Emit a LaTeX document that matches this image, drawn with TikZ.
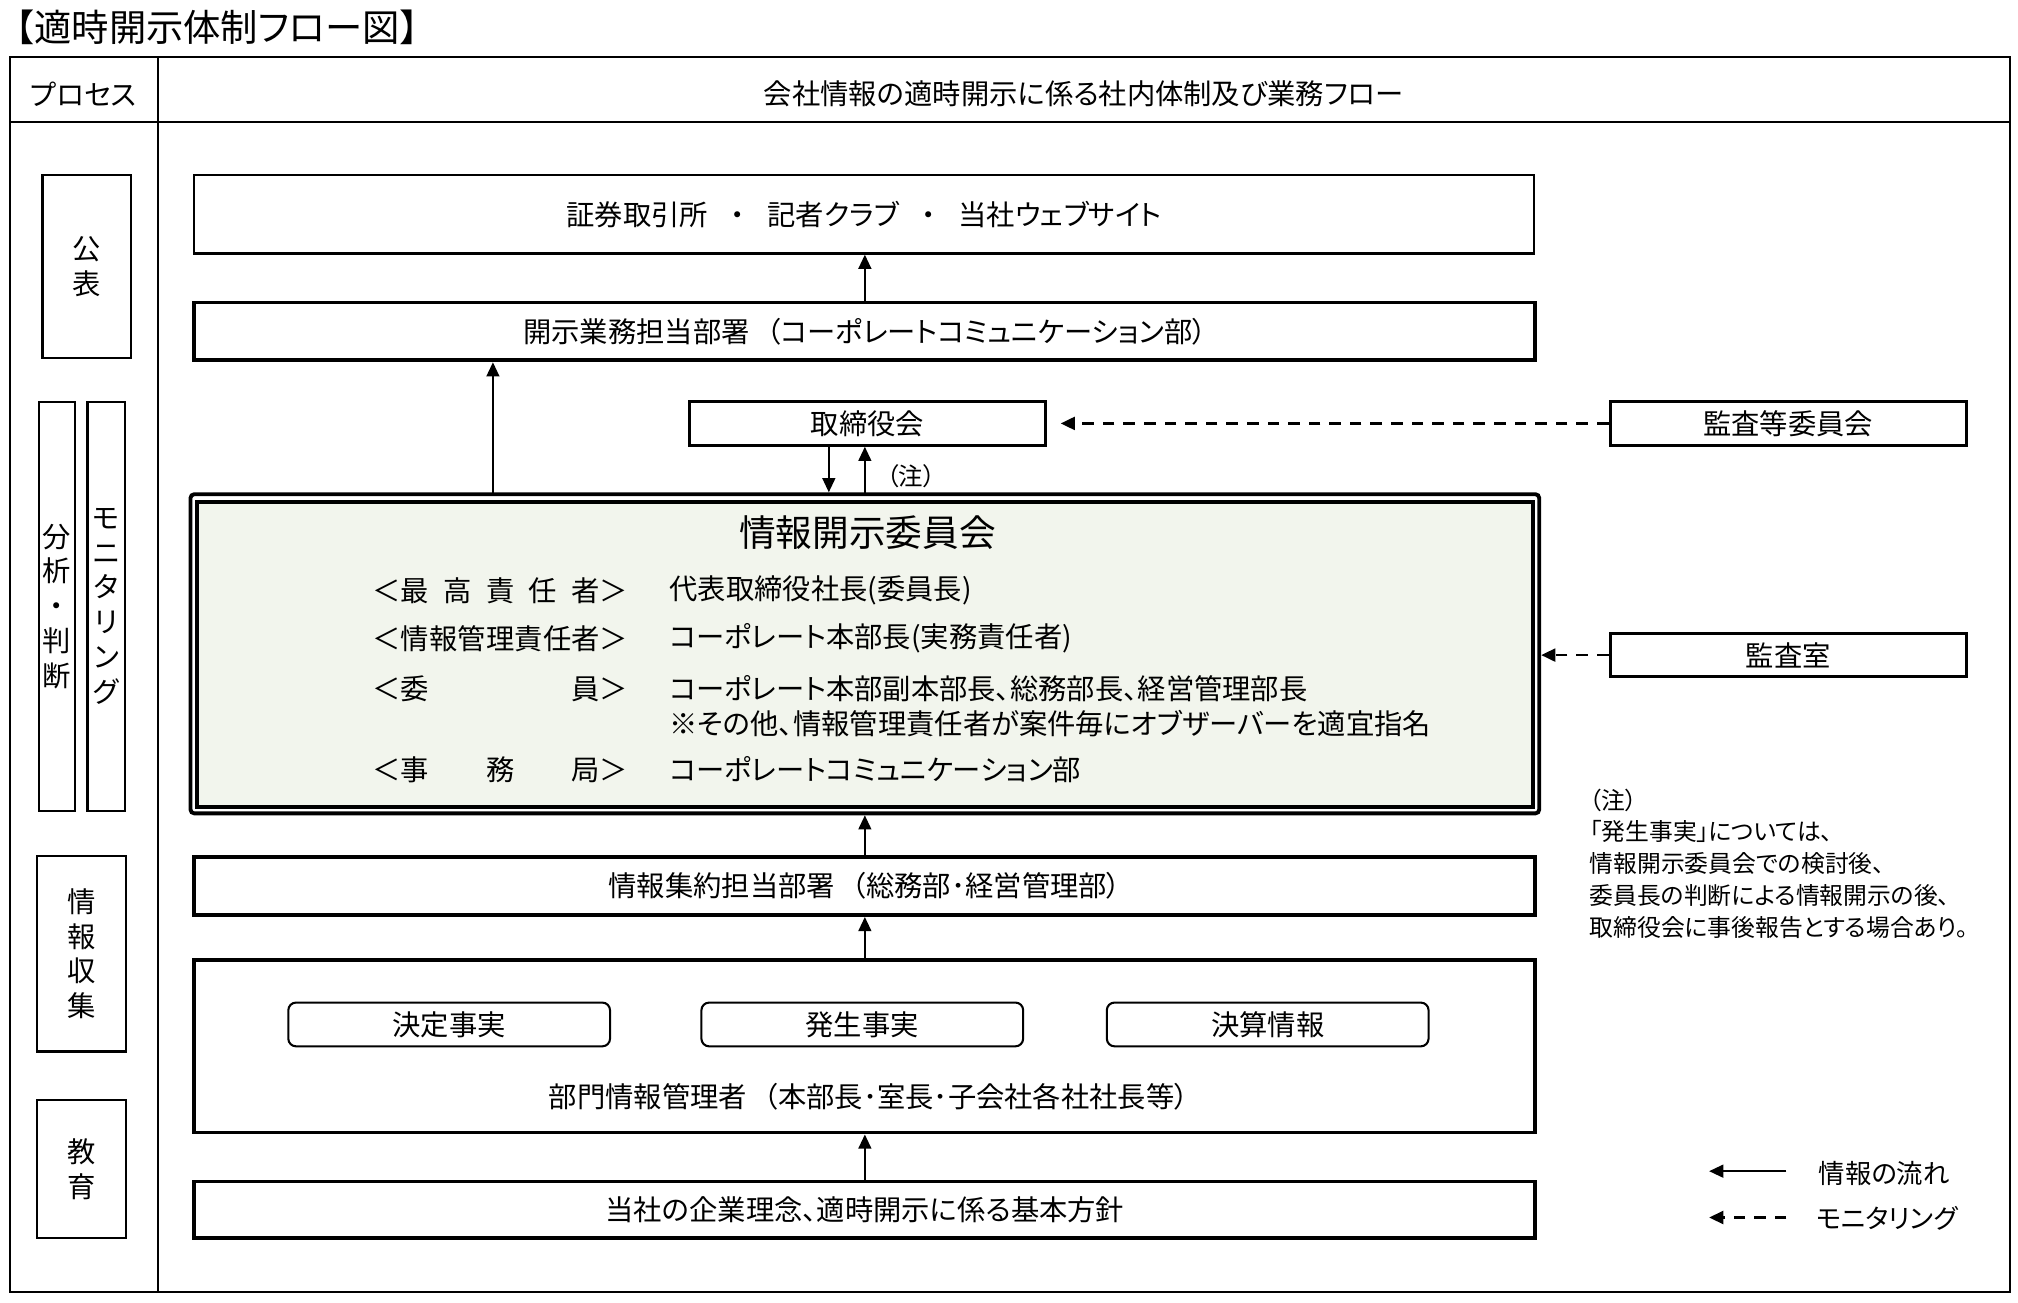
\documentclass[tikz,border=0pt]{standalone}
\usepackage{fontspec}
\setmainfont{Noto Sans CJK JP}[RawFeature=+palt]
\usetikzlibrary{arrows.meta}
\newcommand\bodyfont{\fontsize{22}{27}\selectfont}
\newcommand\notefont{\fontsize{18.5}{22}\selectfont}
\definecolor{cmtfill}{RGB}{242,245,237}
\begin{document}
\begin{tikzpicture}[x=1pt,y=-1pt,
  every node/.style={font=\bodyfont, inner sep=0pt},
  thinbox/.style={draw, line width=1.8pt},
  midbox/.style={draw, line width=2.3pt},
  thickbox/.style={draw, line width=3pt},
  procbox/.style={draw, line width=1.6pt, align=center},
  rbox/.style={draw, line width=1.6pt, rounded corners=6pt},
  arr/.style={line width=1.4pt, -{Triangle[length=11pt,width=10pt]}},
  darr/.style={line width=2pt, dash pattern=on 9pt off 7pt, -{Triangle[length=11pt,width=10pt]}},
  lbl/.style={anchor=west}
]
\useasboundingbox (0,0) rectangle (1568,1012);

% title
\node[anchor=west, font=\fontsize{29}{33}\selectfont] (title) at (12,21) {【適時開示体制フロー図】};

% table frame
\node[draw, line width=1.5pt, minimum width=1554, minimum height=960] (frame) at (785,524) {};
\coordinate (hl) at (8,95);
\coordinate (hr) at (1562,95);
\draw[line width=1.5pt] (hl) -- (hr);
\coordinate (ct) at (123,44);
\coordinate (cb) at (123,1004);
\draw[line width=1.5pt] (ct) -- (cb);
\node (proc) at (65,73) {プロセス};
\node (head) at (842,73) {会社情報の適時開示に係る社内体制及び業務フロー};

% process column
\node[procbox, minimum width=69, minimum height=142] (pub) at (67.5,207) {公\\表};
\node[procbox, minimum width=28, minimum height=318] (ana) at (44,471) {分\\析\\・\\判\\断};
\node[procbox, minimum width=29, minimum height=318] (mon) at (82.5,471) {モ\\ニ\\タ\\リ\\ン\\グ};
\node[procbox, minimum width=69, minimum height=152] (col) at (63.5,741) {情\\報\\収\\集};
\node[procbox, minimum width=69, minimum height=107] (edu) at (63.5,908.5) {教\\育};

% main boxes
\node[thinbox, minimum width=1041, minimum height=61] (sec) at (671.5,166.5) {証券取引所\hspace{0.8em}・\hspace{0.8em}記者クラブ\hspace{0.8em}・\hspace{0.8em}当社ウェブサイト};
\node[thickbox, minimum width=1042, minimum height=45] (disc) at (672,257.5) {開示業務担当部署\hspace{0.6em}（コーポレートコミュニケーション部）};
\node[midbox, minimum width=276, minimum height=34] (board) at (674,329) {取締役会};
\node[midbox, minimum width=277, minimum height=34] (audc) at (1389.5,329) {監査等委員会};
\node[midbox, minimum width=277, minimum height=34] (audo) at (1389.5,509) {監査室};

% committee
\node[draw, line width=3pt, rounded corners=3pt, minimum width=1048, minimum height=248] (cmt) at (672,508) {};
\node[draw, line width=3pt, fill=cmtfill, minimum width=1038, minimum height=237] (cmtin) at (672,508.5) {};
\node[font=\fontsize{28.5}{32}\selectfont] (cmtt) at (674,414) {情報開示委員会};
\node[lbl] (l1) at (289,459) {\makebox[199pt][s]{＜最\hfill 高\hfill 責\hfill 任\hfill 者＞}};
\node[lbl] (v1) at (520,459) {代表取締役社長(委員長)};
\node[lbl] (l2) at (289,496) {\makebox[199pt][s]{＜情\hfill 報\hfill 管\hfill 理\hfill 責\hfill 任\hfill 者＞}};
\node[lbl] (v2) at (520,496) {コーポレート本部長(実務責任者)};
\node[lbl] (l3) at (289,535) {\makebox[199pt][s]{＜委\hfill 員＞}};
\node[lbl] (v3) at (520,535) {コーポレート本部副本部長、総務部長、経営管理部長};
\node[lbl] (v3b) at (520,562) {※その他、情報管理責任者が案件毎にオブザーバーを適宜指名};
\node[lbl] (l4) at (289,598) {\makebox[199pt][s]{＜事\hfill 務\hfill 局＞}};
\node[lbl] (v4) at (520,598) {コーポレートコミュニケーション部};

\node[thickbox, minimum width=1042, minimum height=45] (agg) at (672,688.5) {情報集約担当部署\hspace{0.6em}（総務部･経営管理部）};
\node[thickbox, minimum width=1042, minimum height=134] (dept) at (672,813) {};
\node[rbox, minimum width=250, minimum height=34] (f1) at (349,796) {決定事実};
\node[rbox, minimum width=250, minimum height=34] (f2) at (670,796) {発生事実};
\node[rbox, minimum width=250, minimum height=34] (f3) at (985,796) {決算情報};
\node (deptt) at (675,852) {部門情報管理者\hspace{0.6em}（本部長･室長･子会社各社社長等）};
\node[thickbox, minimum width=1042, minimum height=44] (base) at (672,940) {当社の企業理念、適時開示に係る基本方針};

% arrows
\draw[arr] (disc.north) -- (disc.north |- sec.south);
\coordinate (c1) at (383,384);
\draw[arr] (c1) -- (c1 |- disc.south);
\coordinate (bd) at (644,346);
\draw[arr] (bd) -- (bd |- cmt.north);
\coordinate (bu) at (672,384);
\draw[arr] (bu) -- (bu |- board.south);
\node[font=\fontsize{19}{22}\selectfont] (note1) at (708,370) {（注）};
\draw[darr, shorten >=11pt] (audc.west) -- (board.east);
\draw[darr] (audo.west) -- (audo.west -| cmt.east);
\draw[arr] (agg.north) -- (agg.north |- cmt.south);
\draw[arr] (dept.north) -- (agg.south);
\draw[arr] (base.north) -- (dept.south);

% note
\node[lbl, font=\notefont] (n0) at (1235,622) {（注）};
\node[lbl, font=\notefont] (n1) at (1235,646) {「発生事実」については、};
\node[lbl, font=\notefont] (n2) at (1235,671) {情報開示委員会での検討後、};
\node[lbl, font=\notefont] (n3) at (1235,696) {委員長の判断による情報開示の後、};
\node[lbl, font=\notefont] (n4) at (1235,721) {取締役会に事後報告とする場合あり。};

% legend
\coordinate (ls1) at (1388,910);
\coordinate (le1) at (1328,910);
\draw[arr] (ls1) -- (le1);
\node[lbl, font=\fontsize{20.5}{24}\selectfont] (lg1) at (1413,912) {情報の流れ};
\coordinate (ls2) at (1388,946);
\coordinate (le2) at (1328,946);
\draw[darr] (ls2) -- (le2);
\node[lbl, font=\fontsize{20.5}{24}\selectfont] (lg2) at (1411,947) {モニタリング};
\end{tikzpicture}
\end{document}
